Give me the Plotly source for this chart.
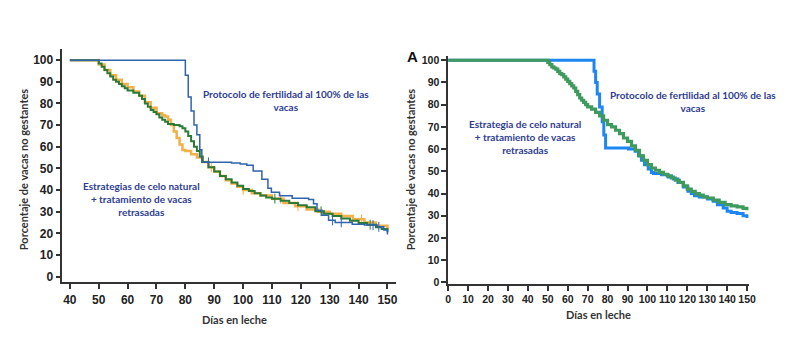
import bisect
import plotly.graph_objects as go

# ---------------- Left panel data ----------------
left_blue_x = [40, 80, 81, 82, 83, 84, 85, 85.7, 96, 99, 101.3, 103.5, 106.5, 108.6, 109.8, 112.6, 117, 122.7,
               124.4, 125.6, 127.3, 129.6, 131.9, 137.8, 142, 146.4, 148.7, 150]
left_blue_y = [100, 93, 83, 76.5, 70, 65.5, 58.6, 52.8, 52.5, 52, 51.5, 48.8, 45, 40.8, 39, 37.4, 36.2, 35.6,
               33.6, 30.6, 28.3, 26, 25, 24.2, 23.8, 23, 21.5, 19.5]

left_green_x = [40, 50, 51, 52, 53, 54, 55, 56, 57, 58, 59, 60, 62, 64, 65, 66, 67, 68, 69, 70, 71, 72, 73, 74,
                76, 78, 79, 80, 81, 82, 83, 84, 85, 86, 88, 90, 92, 94, 96, 98, 100, 102, 104, 106, 108, 110,
                113, 116, 119, 122, 125, 128, 131, 134, 137, 140, 143, 146, 148, 150]
left_green_y = [100, 98.5, 97, 95.5, 94, 92.5, 91, 90, 89, 88, 87, 86, 85, 83.5, 82, 80, 78.5, 77, 76, 75, 73.5,
                72.5, 71.5, 70.5, 70, 69.5, 68.5, 67, 65, 62.5, 60, 58, 55.5, 53, 50.5, 48.5, 46.5, 45, 43.5,
                42, 40.5, 39.5, 38.5, 37.5, 36.5, 36, 35, 34, 33, 32, 30.2, 29, 28, 26.8, 25.8, 24.8, 24, 22.8,
                22, 20.5]

left_orange_x = [40, 50, 52, 54, 56, 58, 60, 62, 64, 66, 68, 70, 72, 73, 74, 75, 76, 77, 78, 79, 80, 82, 84, 86,
                 88, 90, 92, 94, 96, 98, 100, 103, 106, 110, 114, 118, 122, 126, 130, 134, 138, 142, 146, 150]
left_orange_y = [100, 98, 95.5, 93, 91, 89, 87.5, 85.5, 83.5, 80.5, 78, 75.5, 74.5, 74, 72.5, 70, 67, 64, 61,
                 58.5, 58, 56.5, 55, 53, 50.5, 48.5, 46.5, 44.5, 43, 41.5, 40, 38.5, 37.5, 36, 34, 32.5, 31, 30,
                 29, 28, 26.5, 25, 23.5, 21.5]

# censoring marks (days)
left_blue_censor = [88, 131, 134, 145, 147]
left_green_censor = [111, 127, 144]
left_orange_censor = [89, 100, 113, 119, 141]

# ---------------- Right panel data ----------------
right_blue_x = [0, 73.2, 74, 74.8, 76, 77.3, 78.1, 79, 90.5, 93.8, 95.5, 97, 98.5, 100.4, 102, 103, 107, 110.4,
                113, 115.3, 118, 120.3, 122, 123.6, 126, 130.2, 133, 135.1, 138, 140, 142, 145, 148, 150]
right_blue_y = [100, 95, 90, 84.8, 78.9, 72.3, 66.4, 60.5, 60, 59, 57, 55, 53, 51, 49.5, 49, 48.5, 47.5, 46.5,
                45, 43, 41, 40, 39, 38.5, 37.5, 36.5, 35, 33.5, 32, 31.5, 31, 30, 29]

right_green_x = [0, 50, 51, 52, 53, 54, 55, 56, 57, 58, 59, 60, 61, 62, 63, 64, 65, 66, 67, 68, 69, 70, 72, 74,
                 76, 78, 80, 82, 84, 86, 88, 90, 92, 94, 96, 98, 100, 102, 104, 106, 108, 110, 112, 114, 116,
                 118, 120, 122, 124, 126, 128, 130, 133, 136, 139, 142, 145, 148, 150]
right_green_y = [100, 99, 98, 97, 96.5, 96, 95, 94, 93.5, 92.5, 91.5, 90.5, 89.5, 88.5, 87.5, 86, 84.5, 83, 82,
                 81, 80, 79, 78, 76.5, 75, 73, 71, 70, 68.5, 67, 65, 63.5, 61.5, 59.5, 57, 55, 53, 51.5, 50.5,
                 49.5, 48.7, 48, 47, 46, 45, 43.5, 42, 41, 40, 39.3, 38.5, 38, 37, 36, 35, 34.5, 34, 33.3, 32.5]

left_xticks = list(range(40, 151, 10))
right_xticks = list(range(0, 151, 10))
yticks = list(range(0, 101, 10))

W, H = 800, 364
OFF = 8  # page body margin offset


def px(x):
    return (x - OFF) / W


def py(y):
    return 1 - (y - OFF) / H


fig = go.Figure()


def step_value(xs, ys, t):
    i = bisect.bisect_right(xs, t) - 1
    return ys[max(i, 0)]


def add(x, y, color, width, xa, ya, censor=None):
    fig.add_trace(go.Scatter(x=x, y=y, mode="lines", line=dict(color=color, width=width, shape="hv"),
                             xaxis=xa, yaxis=ya, showlegend=False, hoverinfo="skip"))
    if censor:
        fig.add_trace(go.Scatter(x=censor, y=[step_value(x, y, t) for t in censor], mode="markers",
                                 marker=dict(symbol="line-ns", size=7, line=dict(color=color, width=1)),
                                 xaxis=xa, yaxis=ya, showlegend=False, hoverinfo="skip"))


add(left_orange_x, left_orange_y, "#f2b04a", 2.5, "x", "y", left_orange_censor)
add(left_green_x, left_green_y, "#2b7a36", 2, "x", "y", left_green_censor)
add(left_blue_x, left_blue_y, "#3063ad", 1.5, "x", "y", left_blue_censor)
add(right_blue_x, right_blue_y, "#1d86f2", 3, "x2", "y2")
add(right_green_x, right_green_y, "#3f9a5e", 3.2, "x2", "y2")

axcommon = dict(showline=True, linecolor="#333", linewidth=1.5, ticks="outside", ticklen=5, tickwidth=1.5,
                tickcolor="#333", showgrid=False, zeroline=False)


def tf(size):
    return dict(family="Liberation Sans", size=size, color="#222", weight="bold")


fig.update_layout(
    width=W, height=H, margin=dict(l=0, r=0, t=0, b=0),
    paper_bgcolor="white", plot_bgcolor="white",
    xaxis=dict(domain=[px(60), px(398)], range=[37.4, 153], tickvals=left_xticks, anchor="y",
               tickfont=tf(12), **axcommon),
    yaxis=dict(domain=[py(285), py(48)], range=[-2.7, 105], tickvals=yticks, anchor="x",
               tickfont=tf(12), **axcommon),
    xaxis2=dict(domain=[px(450.7), px(755)], range=[0, 150.8], tickvals=right_xticks, anchor="y2",
                tickfont=tf(10.5), **axcommon),
    yaxis2=dict(domain=[py(286.7), py(55)], range=[-0.75, 101.8], tickvals=yticks, anchor="x2",
                tickfont=tf(10.5), **axcommon),
)

navy = "#2e3d8f"
annfont = dict(family="Lato", size=10, color=navy, weight="bold")
titlefont = dict(family="Lato", size=11, color="#333", weight="bold")


def ann(x, y, text, font, **kw):
    fig.add_annotation(x=px(x), y=py(y), xref="paper", yref="paper", text=text, showarrow=False, font=font,
                       xanchor="center", yanchor="middle", **kw)


# left annotations
ann(286, 100, "Protocolo de fertilidad al 100% de las<br>vacas", annfont)
ann(140, 200, "Estrategias de celo natural<br>+ tratamiento de vacas<br>retrasadas", annfont)
# right annotations
ann(699, 101.5, "Protocolo de fertilidad al 100% de las<br>vacas", annfont)
ann(528, 137, "Estrategia de celo natural<br>+ tratamiento de vacas<br>retrasadas", annfont)
# axis titles
ann(234, 323, "Días en leche", titlefont)
ann(603, 318, "Días en leche", titlefont)
ann(20, 170, "Porcentaje de vacas no gestantes", titlefont, textangle=-90)
ann(412, 170, "Porcentaje de vacas no gestantes", titlefont, textangle=-90)
ann(415, 55, "A", dict(family="Liberation Sans", size=15, color="#111", weight="bold"))

fig.write_html("out.html")
